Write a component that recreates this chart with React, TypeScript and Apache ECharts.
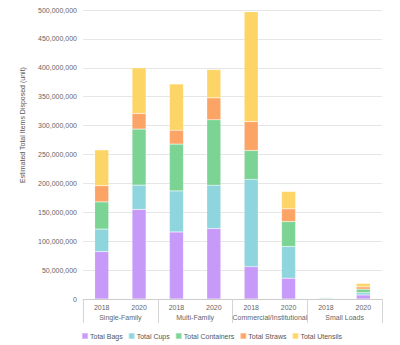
import React, { useEffect, useRef } from "react";
import * as echarts from "echarts";

const years = ["2018", "2020", "2018", "2020", "2018", "2020", "2018", "2020"];
const groups = ["Single-Family", "Multi-Family", "Commercial/Institutional", "Small Loads"];
const bags = [82e6, 155e6, 116e6, 122e6, 56e6, 36e6, 0.6e6, 7e6];
const cups = [39e6, 42e6, 71e6, 75e6, 151e6, 55e6, 1.5e6, 4e6];
const containers = [47e6, 97e6, 81e6, 113e6, 50e6, 43e6, 1e6, 6e6];
const straws = [28e6, 27e6, 24e6, 38e6, 50e6, 22e6, 0.3e6, 4e6];
const utensils = [62e6, 79e6, 80e6, 49e6, 190e6, 30e6, 0.6e6, 6e6];
const seriesNames = ["Total Bags", "Total Cups", "Total Containers", "Total Straws", "Total Utensils"];
const colors = ["#c79afa", "#8ed5dd", "#7bd493", "#fca465", "#fdd466"];
const yTitle = "Estimated Total Items Disposed (unit)";

export default function App() {
  const ref = useRef<HTMLDivElement>(null);
  useEffect(() => {
    if (!ref.current) return;
    const chart = echarts.init(ref.current, undefined, { renderer: "svg" });
    const font = "Liberation Sans, Arial, sans-serif";
    const data = [bags, cups, containers, straws, utensils];
    chart.setOption({
      animation: false,
      textStyle: { fontFamily: font },
      grid: { left: 83, right: 18, top: 10, bottom: 46, containLabel: false },
      legend: {
        bottom: 0,
        left: 76,
        itemWidth: 6,
        itemHeight: 6,
        itemGap: 5,
        icon: "rect",
        textStyle: { fontSize: 7, color: "#555", fontFamily: font, padding: [0, 0, 0, -3] },
        data: seriesNames,
      },
      graphic: [
        {
          type: "text",
          x: 22,
          y: 125,
          rotation: Math.PI / 2,
          style: {
            text: yTitle,
            fontSize: 7,
            fill: "#555",
            fontFamily: font,
            align: "center",
            verticalAlign: "middle",
          },
        },
      ],
      xAxis: [
        {
          type: "category",
          data: years,
          position: "bottom",
          axisLine: { show: true, lineStyle: { color: "#ccc", width: 1 } },
          axisTick: { show: false },
          axisLabel: { fontSize: 7, color: "#666", margin: 5, interval: 0 },
          splitLine: { show: false },
        },
        {
          type: "category",
          data: groups,
          position: "bottom",
          axisLine: { show: false },
          axisTick: { show: true, length: 24, interval: 0, lineStyle: { color: "#d5d5d5" } },
          axisLabel: { fontSize: 7, color: "#666", margin: 15, interval: 0 },
          splitLine: { show: false },
        },
      ],
      yAxis: {
        type: "value",
        min: 0,
        max: 500000000,
        interval: 50000000,
        axisLine: { show: false },
        axisTick: { show: false },
        axisLabel: {
          fontSize: 7,
          color: "#666",
          margin: 6,
          formatter: (v: number) => v.toLocaleString("en-US"),
        },
        splitLine: { lineStyle: { color: "#e6e6e6", width: 1 } },
      },
      series: seriesNames.map((name, i) => ({
        name,
        type: "bar",
        stack: "total",
        xAxisIndex: 0,
        barWidth: 14,
        data: data[i],
        itemStyle: { color: colors[i], borderColor: "rgba(255,255,255,0.35)", borderWidth: 0.5 },
      })),
    });
    return () => chart.dispose();
  }, []);
  return <div ref={ref} style={{ width: 400, height: 345, position: "absolute", left: 0, top: 0 }} />;
}
